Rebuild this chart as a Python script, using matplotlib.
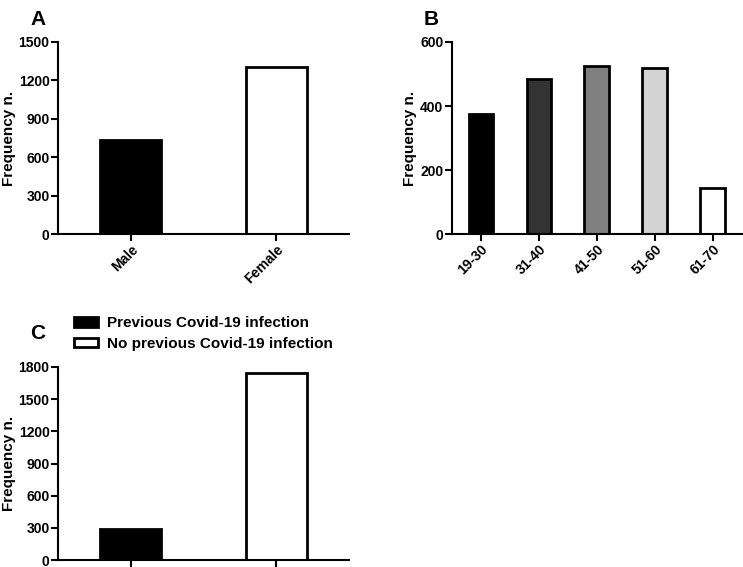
import matplotlib.pyplot as plt

plt.rcParams['font.family'] = ['Liberation Sans', 'DejaVu Sans']
plt.rcParams['font.weight'] = 'bold'

# panel A: sex
sex_labels = ["Male", "Female"]
sex_counts = [738, 1302]
sex_colors = ["black", "white"]

# panel B: age groups
age_labels = ["19-30", "31-40", "41-50", "51-60", "61-70"]
age_counts = [374, 484, 524, 520, 143]
age_colors = ["black", "#333333", "#808080", "#d3d3d3", "white"]

# panel C: previous infection
inf_labels = ["Previous Covid-19 infection", "No previous Covid-19 infection"]
inf_counts = [293, 1742]
inf_colors = ["black", "white"]

fig = plt.figure(figsize=(7.43, 5.67), dpi=100)
axA = fig.add_axes([0.078, 0.587, 0.392, 0.339])
axB = fig.add_axes([0.608, 0.587, 0.390, 0.339])
axC = fig.add_axes([0.078, 0.012, 0.392, 0.341])


def style(ax, ymax, step):
  ax.spines['top'].set_visible(False)
  ax.spines['right'].set_visible(False)
  ax.spines['left'].set_linewidth(1.5)
  ax.spines['bottom'].set_linewidth(1.5)
  ax.set_ylim(0, ymax)
  ax.set_yticks(range(0, ymax + 1, step))
  ax.tick_params(width=1.5, length=5, labelsize=10, pad=1)
  ax.set_ylabel("Frequency n.", fontsize=11, fontweight='bold', labelpad=2)
  for lab in ax.get_yticklabels():
    lab.set_fontweight('bold')


# A
xA = range(len(sex_labels))
axA.bar(xA, sex_counts, width=0.42, color=sex_colors, edgecolor="black", linewidth=2)
axA.set_xlim(-0.5, 1.5)
style(axA, 1500, 300)
axA.set_xticks(list(xA))
axA.set_xticklabels(sex_labels, rotation=45, ha='right', rotation_mode='anchor', fontweight='bold')

# B
xB = range(len(age_labels))
axB.bar(xB, age_counts, width=0.42, color=age_colors, edgecolor="black", linewidth=2)
axB.set_xlim(-0.5, 4.5)
style(axB, 600, 200)
axB.set_xticks(list(xB))
axB.set_xticklabels(age_labels, rotation=45, ha='right', rotation_mode='anchor', fontweight='bold')

# C
xC = range(len(inf_labels))
bars = axC.bar(xC, inf_counts, width=0.42, color=inf_colors, edgecolor="black", linewidth=2)
axC.set_xlim(-0.5, 1.5)
style(axC, 1800, 300)
axC.set_xticks(list(xC))
axC.set_xticklabels([])
axC.legend(bars, inf_labels, loc='lower left', bbox_to_anchor=(0.023, 1.035), frameon=False,
           fontsize=11, handlelength=1.6, handleheight=0.6, handletextpad=0.6,
           labelspacing=0.45, borderaxespad=0.2)

fig.text(0.051, 0.982, "A", fontsize=15, fontweight='bold', ha='center', va='top')
fig.text(0.581, 0.982, "B", fontsize=15, fontweight='bold', ha='center', va='top')
fig.text(0.051, 0.428, "C", fontsize=15, fontweight='bold', ha='center', va='top')

fig.savefig("out.png", dpi=100)
